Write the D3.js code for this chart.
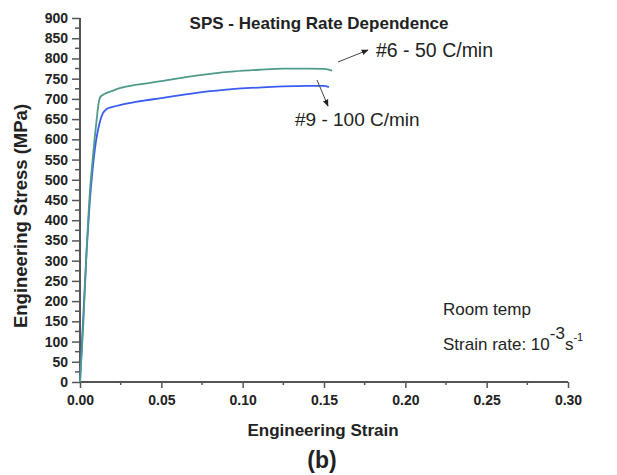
<!DOCTYPE html>
<html>
<head>
<meta charset="utf-8">
<script src="https://cdn.jsdelivr.net/npm/d3@7"></script>
<style>
  body { margin: 0; background: #fff; }
  text { font-family: "Liberation Sans", Arial, sans-serif; }
</style>
</head>
<body>
<div id="chart"></div>
<script>
// series (strain, stress in MPa)
const strain6 = [0, 0.002, 0.004, 0.006, 0.008, 0.010, 0.0115, 0.0125, 0.015, 0.02, 0.025, 0.035, 0.05, 0.065, 0.08, 0.095, 0.11, 0.125, 0.14, 0.15, 0.155];
const stress6 = [0, 140, 320, 465, 560, 640, 690, 705, 712, 720, 727, 735, 744, 754, 762, 768, 772, 775, 775, 774, 770];
const strain9 = [0, 0.002, 0.004, 0.006, 0.008, 0.010, 0.012, 0.014, 0.016, 0.02, 0.025, 0.035, 0.05, 0.065, 0.08, 0.095, 0.11, 0.125, 0.14, 0.15, 0.153];
const stress9 = [0, 160, 320, 445, 535, 600, 640, 664, 674, 680, 685, 693, 702, 711, 719, 725, 728, 731, 732, 732, 729];

const xTicks = [0, 0.05, 0.10, 0.15, 0.20, 0.25, 0.30];
const yTicks = d3.range(0, 901, 50);

const W = 617, H = 475;
const margin = {top: 18, right: 49, bottom: 93, left: 80},
    width = W - margin.left - margin.right,
    height = H - margin.top - margin.bottom;

const svg = d3.select("#chart")
  .append("svg")
  .attr("width", W)
  .attr("height", H);

svg.append("defs").append("marker")
  .attr("id", "arrow")
  .attr("viewBox", "0 0 10 10")
  .attr("refX", 9).attr("refY", 5)
  .attr("markerWidth", 7).attr("markerHeight", 7)
  .attr("markerUnits", "userSpaceOnUse")
  .attr("orient", "auto")
  .append("path")
  .attr("d", "M0,1 L10,5 L0,9 Z")
  .attr("fill", "#222");

const g = svg.append("g")
  .attr("transform", `translate(${margin.left}, ${margin.top})`);

const x = d3.scaleLinear().domain([0, 0.30]).range([0, width]);
const y = d3.scaleLinear().domain([0, 900]).range([height, 0]);

// x axis: major ticks labelled, minor ticks between
const xAxis = g.append("g")
  .attr("transform", `translate(0, ${height})`)
  .call(d3.axisBottom(x).tickValues(xTicks).tickFormat(d3.format(".2f")).tickSize(6).tickPadding(7));
xAxis.append("g")
  .selectAll("line")
  .data(d3.range(0.025, 0.3, 0.05))
  .join("line")
  .attr("x1", d => x(d)).attr("x2", d => x(d))
  .attr("y1", 0).attr("y2", 3)
  .attr("stroke", "#555").attr("stroke-width", 1.5);

const yAxis = g.append("g")
  .call(d3.axisLeft(y).tickValues(yTicks).tickSize(8).tickPadding(4));
yAxis.append("g")
  .selectAll("line")
  .data(d3.range(25, 900, 50))
  .join("line")
  .attr("x1", 0).attr("x2", -5)
  .attr("y1", d => y(d)).attr("y2", d => y(d))
  .attr("stroke", "#555").attr("stroke-width", 1.5);

g.selectAll(".domain").attr("stroke", "#555").attr("stroke-width", 2);
g.selectAll(".tick line").attr("stroke", "#555").attr("stroke-width", 1.5);
g.selectAll(".tick text")
  .attr("font-family", "Liberation Sans, Arial, sans-serif")
  .attr("font-size", 14).attr("font-weight", "bold").attr("fill", "#222");
// remove outer tick ends of the domain path
xAxis.select(".domain").attr("d", `M0,0H${width}`);
yAxis.select(".domain").attr("d", `M0,0V${height}`);

// curves
const line = d3.line()
  .x(d => x(d[0]))
  .y(d => y(d[1]))
  .curve(d3.curveMonotoneX);

g.append("path")
  .datum(d3.zip(strain9, stress9))
  .attr("fill", "none")
  .attr("stroke", "#3a5cf0")
  .attr("stroke-width", 1.8)
  .attr("d", line);

g.append("path")
  .datum(d3.zip(strain6, stress6))
  .attr("fill", "none")
  .attr("stroke", "#4f9a8a")
  .attr("stroke-width", 1.8)
  .attr("d", line);

// title
svg.append("text")
  .attr("x", 319).attr("y", 29)
  .attr("text-anchor", "middle")
  .attr("font-size", 17).attr("font-weight", "bold").attr("fill", "#222")
  .text("SPS - Heating Rate Dependence");

// annotations with arrows
svg.append("line")
  .attr("x1", 338).attr("y1", 62).attr("x2", 368).attr("y2", 50)
  .attr("stroke", "#444").attr("stroke-width", 1)
  .attr("marker-end", "url(#arrow)");
svg.append("text")
  .attr("x", 376).attr("y", 57)
  .attr("font-size", 19.5).attr("fill", "#222")
  .text("#6 - 50 C/min");

svg.append("line")
  .attr("x1", 317).attr("y1", 80).attr("x2", 328).attr("y2", 106)
  .attr("stroke", "#444").attr("stroke-width", 1)
  .attr("marker-end", "url(#arrow)");
svg.append("text")
  .attr("x", 295).attr("y", 126)
  .attr("font-size", 19).attr("fill", "#222")
  .text("#9 - 100 C/min");

// test conditions
svg.append("text")
  .attr("x", 443).attr("y", 315)
  .attr("font-size", 17).attr("fill", "#222")
  .text("Room temp");
const rate = svg.append("text")
  .attr("x", 443).attr("y", 350)
  .attr("font-size", 17).attr("fill", "#222");
rate.append("tspan").text("Strain rate: 10");
rate.append("tspan").attr("dy", -11).attr("font-size", 17).text("-3");
rate.append("tspan").attr("dy", 11).text("s");
rate.append("tspan").attr("dy", -9).attr("font-size", 11).text("-1");

// axis titles
svg.append("text")
  .attr("x", 323).attr("y", 436)
  .attr("text-anchor", "middle")
  .attr("font-size", 17).attr("font-weight", "bold").attr("fill", "#222")
  .text("Engineering Strain");

svg.append("text")
  .attr("transform", "translate(27, 216) rotate(-90)")
  .attr("text-anchor", "middle")
  .attr("font-size", 18.5).attr("font-weight", "bold").attr("fill", "#222")
  .text("Engineering Stress (MPa)");

svg.append("text")
  .attr("x", 322).attr("y", 468)
  .attr("text-anchor", "middle")
  .attr("font-size", 23).attr("font-weight", "bold").attr("fill", "#222")
  .text("(b)");
</script>
</body>
</html>
